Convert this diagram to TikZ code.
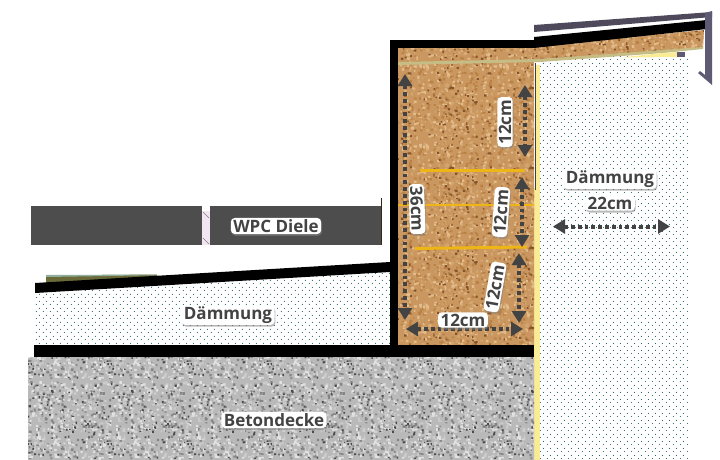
\documentclass[tikz,border=0pt]{standalone}
\usepackage{fontspec}
\setmainfont{Open Sans}
\usetikzlibrary{arrows.meta,shadows,patterns}
\definecolor{wpc}{HTML}{4D4D4D}
\definecolor{lab}{HTML}{434343}
\definecolor{dotc}{HTML}{1C5560}
\definecolor{beam}{HTML}{EDB616}
\definecolor{ins}{HTML}{F9EC94}
\definecolor{roofsheet}{HTML}{4E4A5C}
\definecolor{fascia}{HTML}{5E5A74}
\definecolor{layera}{HTML}{8FAE9C}
\definecolor{layerb}{HTML}{6B6B3A}
\definecolor{ck0}{HTML}{C9975F}
\definecolor{ck1}{HTML}{B98146}
\definecolor{ck2}{HTML}{E3BC8C}
\definecolor{ck3}{HTML}{85532A}
\definecolor{ck4}{HTML}{D3A570}
\definecolor{cn0}{HTML}{B9B9B9}
\definecolor{cn1}{HTML}{858585}
\definecolor{cn2}{HTML}{E2E2E2}
\definecolor{cn3}{HTML}{4A4A4A}
\definecolor{cn4}{HTML}{CCCCCC}
% one layer of random grains of a single colour in a tile of 80pt
\newcommand{\grains}[3]{% colour, count, max size
  \pgfsetcolor{#1}%
  \foreach \n in {1,...,#2}{
    \pgfmathsetmacro{\rx}{rnd*77}
    \pgfmathsetmacro{\ry}{rnd*77}
    \pgfmathsetmacro{\rw}{1.2+rnd*#3}
    \pgfmathsetmacro{\rh}{1.2+rnd*#3}
    \pgfpathrectangle{\pgfpoint{\rx pt}{\ry pt}}{\pgfpoint{\rw pt}{\rh pt}}
  }
  \pgfusepath{fill}%
}
\pgfdeclarepatterninherentlycolored{corktex}{\pgfpointorigin}{\pgfpoint{81pt}{81pt}}{\pgfpoint{80pt}{80pt}}{%
  \pgfmathsetseed{4217}%
  \pgfsetcolor{ck0}\pgfpathrectangle{\pgfpointorigin}{\pgfpoint{81pt}{81pt}}\pgfusepath{fill}%
  \grains{ck4}{140}{2.2}\grains{ck1}{170}{1.8}\grains{ck2}{150}{1.8}\grains{ck3}{75}{1.2}}
\pgfdeclarepatterninherentlycolored{concretetex}{\pgfpointorigin}{\pgfpoint{81pt}{81pt}}{\pgfpoint{80pt}{80pt}}{%
  \pgfmathsetseed{991}%
  \pgfsetcolor{cn0}\pgfpathrectangle{\pgfpointorigin}{\pgfpoint{81pt}{81pt}}\pgfusepath{fill}%
  \grains{cn4}{170}{2.0}\grains{cn1}{190}{1.5}\grains{cn2}{190}{1.6}\grains{cn3}{80}{1.0}}
\pgfdeclarepatterninherentlycolored{insdots}{\pgfpointorigin}{\pgfpoint{7pt}{7pt}}{\pgfpoint{7pt}{7pt}}{%
  \pgfsetcolor{dotc}%
  \pgfpathcircle{\pgfpoint{1.5pt}{1.75pt}}{0.6pt}%
  \pgfpathcircle{\pgfpoint{5pt}{5.25pt}}{0.6pt}%
  \pgfusepath{fill}}
\tikzset{
  tag/.style={fill=white,text=lab,font=\bfseries\fontsize{17}{17}\selectfont,rounded corners=4pt,
    inner xsep=2.5pt,inner ysep=1.5pt,drop shadow={shadow xshift=0.8pt,shadow yshift=-1.8pt,opacity=.55}},
  dim/.style={draw=lab,line width=4pt,dash pattern=on 3.8pt off 3pt,
    {Triangle[width=14pt,length=12pt,fill=lab,sep=0pt]}-{Triangle[width=14pt,length=12pt,fill=lab,sep=0pt]}},
  solid black/.style={fill=black,draw=none},
  beamline/.style={draw=beam,line width=3pt}
}
\begin{document}
\begin{tikzpicture}[x=1pt,y=-1pt]
\path[use as bounding box,fill=white] (0,0) rectangle (720,460);

% right insulation
\fill[pattern=insdots] (540,57) rectangle (688,460);
\fill[ins] (534,188) rectangle (540,460);
\fill[ins] (536,65) rectangle (540,188);
\draw[black!75,line width=.7pt] (535,63) -- (535,190);

% left insulation
\fill[pattern=insdots] (34,293) -- (390,272) -- (390,346) -- (34,346) -- cycle;

% cork
\fill[pattern=corktex] (398,48) -- (534,46) -- (704,30) -- (703,48) -- (540,60) -- (536,62) -- (534,62) -- (534,347) -- (398,347) -- cycle;

% yellow band under the roof insulation
\fill[ins!75!black!85!white] (398,62) -- (540,59) -- (703,47) -- (703,49) -- (663,53) -- (540,62) -- (398,65) -- cycle;
\fill[ins] (620,57.5) -- (663,53) -- (680,52) -- (680,57) -- cycle;
\fill[fascia] (677,52) rectangle (685,57);

% concrete
\fill[pattern=concretetex] (28,357) rectangle (534,460);

% thin layers on the slope
\fill[layerb] (46,275.5) -- (157,274.5) -- (157,277) -- (46,283) -- cycle;
\fill[layera] (46,275) -- (157,274.5) -- (157,275.2) -- (46,277) -- cycle;

% black members
\fill[solid black] (34,345) rectangle (534,357);
\fill[solid black] (390,40) rectangle (398,357);
\fill[solid black] (390,40) rectangle (534,48);
\fill[solid black] (534,37) -- (707,20) -- (707,29) -- (534,48) -- cycle;
\fill[solid black] (35,283) -- (390,262) -- (390,272) -- (35,293) -- cycle;

% upper roof sheet and fascia
\fill[roofsheet] (534,25) -- (712,12) -- (712,17) -- (534,32) -- cycle;
\fill[fascia] (705,13) -- (712,11) -- (712,85) -- (698,73) -- (700,71) -- (705,75) -- cycle;

% beams
\draw[beamline] (420,170) -- (525,170);
\draw[beamline,line width=1.4pt] (398,205) -- (534,205);
\draw[beamline] (415,248.5) -- (527,247);

% WPC board
\fill[wpc] (31,206) rectangle (381,245);
\fill[white] (202,206) rectangle (210,211);
\fill[violet!10!white] (202,211) rectangle (210,245);
\draw[gray,line width=.5pt] (203,212) -- (209,218) (203,238) -- (209,244);
\draw[black!70!brown,line width=1pt] (381,198) -- (381,245);

% dimension arrows
\coordinate (a36t) at (405,74);   \coordinate (a36b) at (405,320);
\coordinate (a1t) at (525,85);    \coordinate (a1b) at (525,157);
\coordinate (a2t) at (522,177);   \coordinate (a2b) at (522,247);
\coordinate (a3t) at (519,253);   \coordinate (a3b) at (519,323);
\coordinate (ahl) at (406,329);   \coordinate (ahr) at (523,329);
\coordinate (adl) at (553,226.5); \coordinate (adr) at (670,226.5);
\draw[dim] (a36t) -- (a36b);
\draw[dim] (a1t) -- (a1b);
\draw[dim] (a2t) -- (a2b);
\draw[dim] (a3t) -- (a3b);
\draw[dim] (ahl) -- (ahr);
\draw[dim] (adl) -- (adr);

% labels
\node[tag] (wpcl) at (276,226) {WPC Diele};
\node[tag] (dl) at (228,315) {Dämmung};
\node[tag] (beton) at (274,420) {Betondecke};
\node[tag] (dr) at (610,179) {Dämmung};
\node[tag] (drw) at (610,203) {22cm};
\node[tag,rotate=-88] (m36) at (417,209) {36cm};
\node[tag,rotate=90] (m1) at (505,122) {12cm};
\node[tag,rotate=86] (m2) at (501,212) {12cm};
\node[tag,rotate=80] (m3) at (495,287) {12cm};
\node[tag] (m4) at (463,320) {12cm};
\end{tikzpicture}
\end{document}
